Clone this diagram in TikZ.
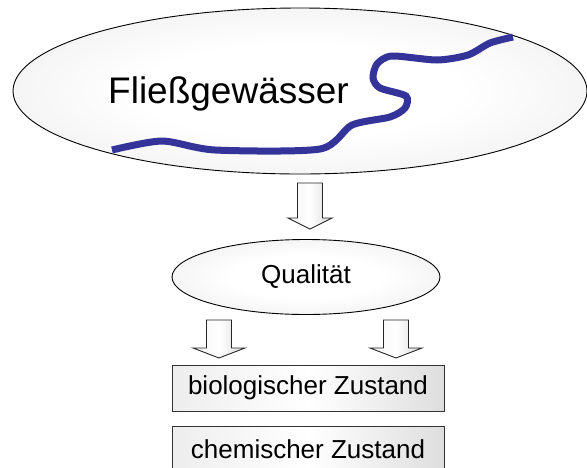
\documentclass[tikz,border=0pt]{standalone}
\usepackage{fontspec}
\setmainfont{Liberation Sans}
\usetikzlibrary{shapes.geometric}
\definecolor{riverblue}{RGB}{51,51,153}
% soft radial fill: white in the middle, light grey towards the rim
\pgfdeclareradialshading{softrim}{\pgfpoint{0bp}{0bp}}{%
  color(0bp)=(white); color(14bp)=(white); color(42bp)=(black!10); color(52bp)=(black!16); color(72bp)=(black!24)}
\tikzset{
  bubble/.style={ellipse, draw=black, line width=0.9pt, shading=softrim, inner sep=0},
  statebox/.style={rectangle, draw=black!80, line width=1pt, left color=gray!14, right color=gray!26, middle color=white,
    font=\fontsize{26}{30}\selectfont, minimum width=272pt, minimum height=46pt, inner sep=0},
  flow/.style={draw=black!85, line width=0.9pt, left color=gray!10, right color=gray!30, middle color=white},
  % block arrow pointing down, tip at the origin:
  % #1 shaft half width, #2 head half width, #3 total length, #4 head length
  pics/blockdown/.style n args={4}{code={
    \path[flow] (-#1,-#3) -- (#1,-#3) -- (#1,-#4) -- (#2,-#4) -- (0,0)
      -- (-#2,-#4) -- (-#1,-#4) -- cycle;
  }}
}
\begin{document}
\begin{tikzpicture}[x=1pt,y=-1pt]
\useasboundingbox (0,0) rectangle (587,467);

% the stream
\node[bubble, minimum width=574pt, minimum height=166pt] (stream) at (300,91) {};
\node[anchor=base west, inner sep=0, font=\fontsize{37}{42}\selectfont] (streamlabel) at (108,103) {Fließgewässer};
\draw[riverblue, line width=7pt] plot[smooth, tension=0.45] coordinates {
  (112,150) (162,141) (215,150) (320,149) (352,125) (390,117) (405,108)
  (406,96) (380,88) (373,78) (377,64) (392,56) (437,60) (468,55) (490,43) (513,37)};

% quality
\node[bubble, minimum width=268pt, minimum height=75pt, font=\fontsize{26}{30}\selectfont] (quality) at (306,277) {Qualität};

% states
\node[statebox] (bio) at (308,388) {biologischer Zustand};
\node[statebox] (chem) at (308,449) {chemischer Zustand};

% block arrows
\pic (a1) at (310,229) {blockdown={12.5}{22}{46}{11}};
\pic (a2) at (219,358) {blockdown={12.5}{26}{38}{10}};
\pic (a3) at (396,358) {blockdown={12.5}{26}{38}{10}};
\end{tikzpicture}
\end{document}
